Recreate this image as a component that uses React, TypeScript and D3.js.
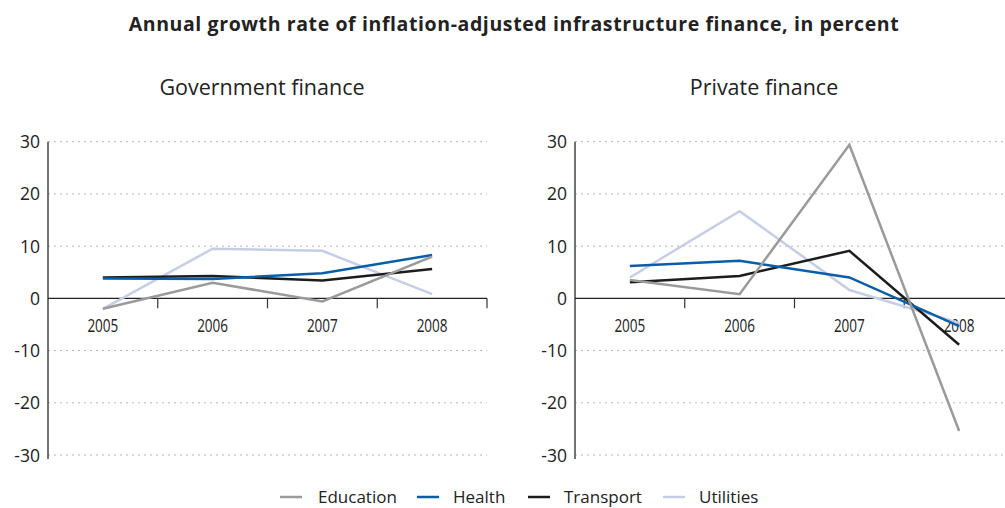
import React from "react";
import * as d3 from "d3";

const years = ["2005", "2006", "2007", "2008"];
const seriesNames = ["Education", "Health", "Transport", "Utilities"];
const seriesColors = ["#9a9a9a", "#0a5ea8", "#1c1c1c", "#c6cee6"];
const yTicks = [30, 20, 10, 0, -10, -20, -30];

const govEducation = [-2.0, 3.0, -0.6, 8.0];
const govHealth = [3.8, 3.7, 4.8, 8.3];
const govTransport = [4.0, 4.3, 3.4, 5.6];
const govUtilities = [-2.0, 9.5, 9.1, 0.8];

const privEducation = [3.5, 0.8, 29.4, -25.4];
const privHealth = [6.2, 7.2, 4.0, -5.3];
const privTransport = [3.1, 4.3, 9.1, -8.9];
const privUtilities = [4.0, 16.7, 1.6, -4.7];

const panels = [
  { title: "Government finance", x0: 48, x1: 487, gridEnd: 487, titleX: 262, series: [govEducation, govHealth, govTransport, govUtilities] },
  { title: "Private finance", x0: 575, x1: 1014, gridEnd: 1005, titleX: 764, series: [privEducation, privHealth, privTransport, privUtilities] },
];

const FONT = "'Open Sans', 'DejaVu Sans', sans-serif";

function Panel({ p }: { p: typeof panels[number] }) {
  const x = d3.scaleBand<string>().domain(years).range([p.x0, p.x1]);
  const y = d3.scaleLinear().domain([-30, 30]).range([455, 141.7]);
  const line = d3
    .line<number>()
    .x((_, i) => (x(years[i]) as number) + x.bandwidth() / 2)
    .y((d) => y(d));
  const boundaries = years.map((yr) => (x(yr) as number) + x.bandwidth());
  return (
    <g>
      <text x={p.titleX} y={95} textAnchor="middle" fontSize={21.5} fill="#222" fontFamily={FONT}>
        {p.title}
      </text>
      {yTicks.filter((t) => t !== 0).map((t) => (
        <line key={t} x1={p.x0} x2={p.gridEnd} y1={y(t)} y2={y(t)} stroke="#b5b5b5" strokeWidth={1} strokeDasharray="2,4" />
      ))}
      {yTicks.map((t) => (
        <text key={"l" + t} x={p.x0 - 8} y={y(t) + 6.5} textAnchor="end" fontSize={17.5} fill="#222" fontFamily={FONT}>
          {t}
        </text>
      ))}
      <line x1={p.x0} x2={p.x0} y1={y(30)} y2={y(-30) + 4} stroke="#444" strokeWidth={1.5} />
      <line x1={p.x0} x2={p.gridEnd} y1={y(0)} y2={y(0)} stroke="#222" strokeWidth={1.2} />
      {boundaries.map((b, i) => (
        <line key={"t" + i} x1={b} x2={b} y1={y(0)} y2={y(0) + 10} stroke="#333" strokeWidth={1.2} />
      ))}
      {years.map((yr) => (
        <text key={yr} x={(x(yr) as number) + x.bandwidth() / 2} y={332} textAnchor="middle" fontSize={18.5} fill="#222" fontFamily={FONT} textLength={31} lengthAdjust="spacingAndGlyphs">
          {yr}
        </text>
      ))}
      {p.series.map((s, i) => (
        <path key={"s" + i} d={line(s) as string} fill="none" stroke={seriesColors[i]} strokeWidth={2.5} />
      )).reverse()}
    </g>
  );
}

export default function App() {
  const legendX = [280, 417, 528, 663];
  return (
    <svg width={1005} height={508} style={{ position: "absolute", left: 0, top: 0, background: "#fff" }}>
      <text x={514} y={31} textAnchor="middle" fontSize={19.5} fontWeight="bold" fill="#222" fontFamily={FONT} letterSpacing={0.6}>
        Annual growth rate of inflation-adjusted infrastructure finance, in percent
      </text>
      {panels.map((p) => (
        <Panel key={p.title} p={p} />
      ))}
      {seriesNames.map((n, i) => (
        <g key={n}>
          <line x1={legendX[i]} x2={legendX[i] + 22} y1={497} y2={497} stroke={seriesColors[i]} strokeWidth={2.5} />
          <text x={legendX[i] + (i === 0 ? 38 : 36)} y={503} fontSize={17} fill="#222" fontFamily={FONT}>
            {n}
          </text>
        </g>
      ))}
    </svg>
  );
}
